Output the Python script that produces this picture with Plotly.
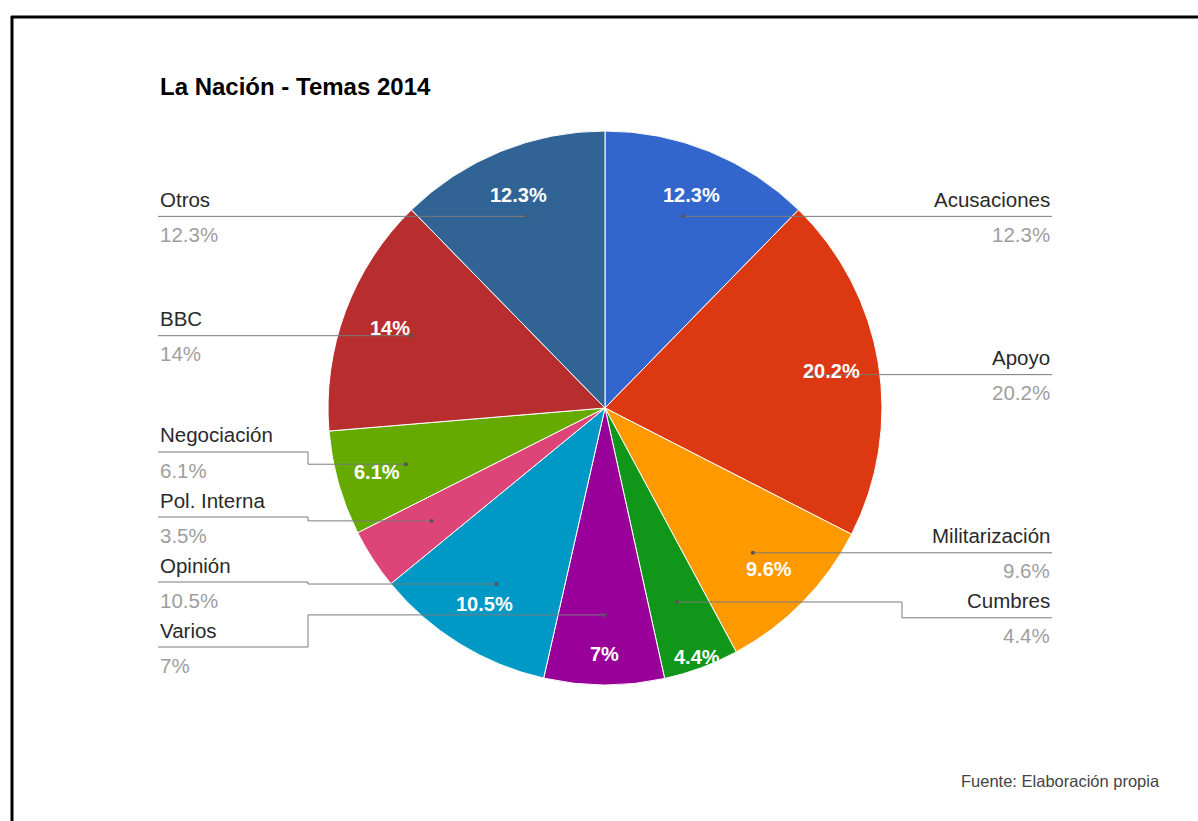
import math
import plotly.graph_objects as go

# Topics covered by La Nación in 2014 (share of articles, %)
topics = ["Acusaciones", "Apoyo", "Militarización", "Cumbres", "Varios",
          "Opinión", "Pol. Interna", "Negociación", "BBC", "Otros"]
shares = [12.3, 20.2, 9.6, 4.4, 7, 10.5, 3.5, 6.1, 14, 12.3]
slice_colors = ["#3366cc", "#dc3912", "#ff9900", "#109618", "#990099",
                "#0099c6", "#dd4477", "#66aa00", "#b82e2e", "#316395"]

title_text = "La Nación - Temas 2014"
source_text = "Fuente: Elaboración propia"

# Canvas and pie geometry (pixels)
W, H = 1198, 821
CX, CY, R = 605, 408, 277
FONT = "Arial, Liberation Sans, sans-serif"


def px(x):
    return x / W


def py(y):
    return 1 - y / H


def pct(v):
    return f"{v:g}%"


def polar(r, a):
    return CX + r * math.sin(a), CY - r * math.cos(a)


def stack_rows(desired, gap, bottom):
    """Push label rows down to keep `gap` between them, then back up if the
    last row runs past `bottom`."""
    rows = []
    for d in desired:
        rows.append(d if not rows else max(d, rows[-1] + gap))
    if rows and rows[-1] > bottom:
        rows[-1] = bottom
        for i in range(len(rows) - 2, -1, -1):
            rows[i] = min(rows[i], rows[i + 1] - gap)
    return rows


fig = go.Figure(go.Pie(
    labels=topics,
    values=shares,
    sort=False,
    direction="clockwise",
    rotation=0,
    marker=dict(colors=slice_colors, line=dict(color="white", width=1)),
    textinfo="none",
    hoverinfo="label+percent",
    showlegend=False,
    domain=dict(x=[px(CX - R), px(CX + R)], y=[py(CY + R), py(CY - R)]),
))

annotations = []
shapes = []

total = sum(shares)
cum = 0.0
left, right = [], []
for name, v in zip(topics, shares):
    frac = v / total
    a = (cum + frac / 2) * 2 * math.pi
    cum += frac

    # value printed inside the slice (pushed outward on narrow bottom wedges)
    if frac >= 0.04:
        r_txt = 0.83 + max(0.0, 0.09 - frac) * 3.0 * abs(math.cos(a))
        tx, ty = polar(r_txt * R, a)
        annotations.append(dict(
            x=px(tx), y=py(ty), xref="paper", yref="paper", showarrow=False,
            text=f"<b>{pct(v)}</b>", xanchor="center", yanchor="middle",
            font=dict(family=FONT, size=20, color="white")))

    dx, dy = polar(0.747 * R, a)
    item = dict(name=name, v=v, dx=dx, dy=dy)
    (right if a < math.pi else left).append(item)

GAP = 65
BOTTOM = CY + R - 38
COL_L, COL_R, ELBOW = 158, 1052, 150
for side, items in (("L", left), ("R", right)):
    items.sort(key=lambda d: d["dy"])
    rows = stack_rows([d["dy"] for d in items], GAP, BOTTOM)
    for d, ly in zip(items, rows):
        col = COL_L if side == "L" else COL_R
        ex = col + ELBOW if side == "L" else col - ELBOW
        if abs(ly - d["dy"]) > 1.5:
            path = (f"M {px(col)},{py(ly)} L {px(ex)},{py(ly)} "
                    f"L {px(ex)},{py(d['dy'])} L {px(d['dx'])},{py(d['dy'])}")
        else:
            path = f"M {px(col)},{py(d['dy'])} L {px(d['dx'])},{py(d['dy'])}"
            ly = d["dy"]
        shapes.append(dict(type="path", path=path, xref="paper", yref="paper",
                           line=dict(color="#7a7a7a", width=1)))
        shapes.append(dict(type="circle", xref="paper", yref="paper",
                           x0=px(d["dx"] - 2), x1=px(d["dx"] + 2),
                           y0=py(d["dy"] + 2), y1=py(d["dy"] - 2),
                           fillcolor="#555555", line=dict(width=0)))
        anchor = "left" if side == "L" else "right"
        annotations.append(dict(
            x=px(col), y=py(ly - 17), xref="paper", yref="paper",
            showarrow=False, text=d["name"], xanchor=anchor, yanchor="middle",
            font=dict(family=FONT, size=20.5, color="#2a2a2a")))
        annotations.append(dict(
            x=px(col), y=py(ly + 18), xref="paper", yref="paper",
            showarrow=False, text=pct(d["v"]), xanchor=anchor, yanchor="middle",
            font=dict(family=FONT, size=20.5, color="#9e9e9e")))

annotations.append(dict(
    x=px(158), y=py(87), xref="paper", yref="paper", showarrow=False,
    text=f"<b>{title_text}</b>", xanchor="left", yanchor="middle",
    font=dict(family=FONT, size=24, color="#000000")))
annotations.append(dict(
    x=px(1162), y=py(781), xref="paper", yref="paper", showarrow=False,
    text=source_text, xanchor="right", yanchor="middle",
    font=dict(family=FONT, size=16.5, color="#444444")))

# frame along the top and left edges
shapes.append(dict(type="line", xref="paper", yref="paper",
                   x0=px(11), x1=px(W), y0=py(17), y1=py(17),
                   line=dict(color="black", width=3)))
shapes.append(dict(type="line", xref="paper", yref="paper",
                   x0=px(12), x1=px(12), y0=py(16), y1=py(H),
                   line=dict(color="black", width=3)))

fig.update_layout(
    width=W, height=H,
    margin=dict(l=0, r=0, t=0, b=0),
    paper_bgcolor="white",
    plot_bgcolor="white",
    annotations=annotations,
    shapes=shapes,
)

fig.write_html("out.html")
